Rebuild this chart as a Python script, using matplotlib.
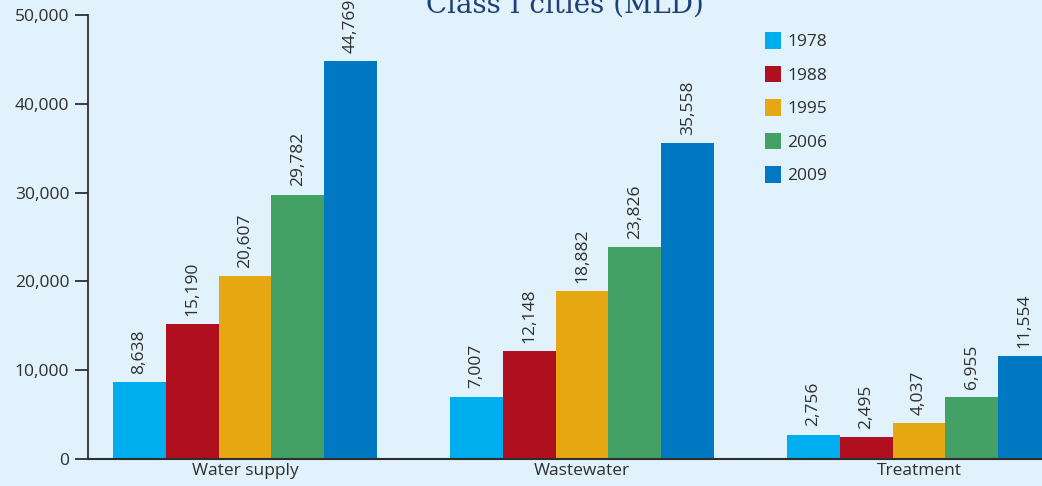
import numpy as np
import matplotlib.pyplot as plt

# === datos ===
categorias = ["Water supply", "Wastewater", "Treatment"]
anios = ["1978", "1988", "1995", "2006", "2009"]
v1978 = [8638, 7007, 2756]
v1988 = [15190, 12148, 2495]
v1995 = [20607, 18882, 4037]
v2006 = [29782, 23826, 6955]
v2009 = [44769, 35558, 11554]
series = [v1978, v1988, v1995, v2006, v2009]
colores = ["#00AEEF", "#B00F1F", "#E5A812", "#43A165", "#0079C2"]

fondo = "#E1F2FC"
gris = "#2E2E2E"
fuente = ['Open Sans', 'DejaVu Sans']

fig = plt.figure(figsize=(10.42, 4.86), dpi=100, facecolor=fondo)
ax = fig.add_axes([88/1042, 27/486, 1 - 88/1042, (459-15)/486])
ax.set_facecolor(fondo)

x = np.arange(len(categorias))
w = 0.157
for i, (vals, col, lab) in enumerate(zip(series, colores, anios)):
    pos = x + (i - 2) * w
    ax.bar(pos, vals, width=w, color=col, label=lab, linewidth=0)
    for p, v in zip(pos, vals):
        ax.annotate(f"{v:,}", (p, v), xytext=(0, 6), textcoords="offset points",
                    rotation=90, ha="center", va="bottom", fontsize=12.5,
                    color=gris, family=fuente)

ax.set_xlim(-0.466, 2.365)
ax.set_ylim(0, 50000)
ax.set_yticks(np.arange(0, 50001, 10000))
ax.set_yticklabels([f"{t:,}" for t in range(0, 50001, 10000)],
                   fontsize=12.5, color=gris, family=fuente)
ax.set_xticks(x)
ax.set_xticklabels(categorias, fontsize=12.5, color=gris, family=fuente)
ax.tick_params(axis="y", direction="out", length=9.5, width=1.3, color=gris, pad=4)
ax.tick_params(axis="x", length=0, pad=3)

for s in ["top", "right"]:
    ax.spines[s].set_visible(False)
ax.spines["left"].set_color(gris)
ax.spines["left"].set_linewidth(1.3)
ax.spines["bottom"].set_color(gris)
ax.spines["bottom"].set_linewidth(1.5)

ley = ax.legend(loc="upper left", bbox_to_anchor=(765/1042, 1 - 32/486),
                bbox_transform=fig.transFigure, frameon=False, borderpad=0,
                borderaxespad=0, handlelength=0.9, handleheight=1.1,
                handletextpad=0.4, labelspacing=0.88,
                prop={"family": fuente, "size": 12.5})
for t in ley.get_texts():
    t.set_color(gris)

fig.text(0.542, 1 - 13/486, "Class I cities (MLD)", ha="center", va="baseline",
         fontsize=20, color="#1F3F7A", family="DejaVu Serif")

fig.savefig("out.png", dpi=100, facecolor=fondo)
